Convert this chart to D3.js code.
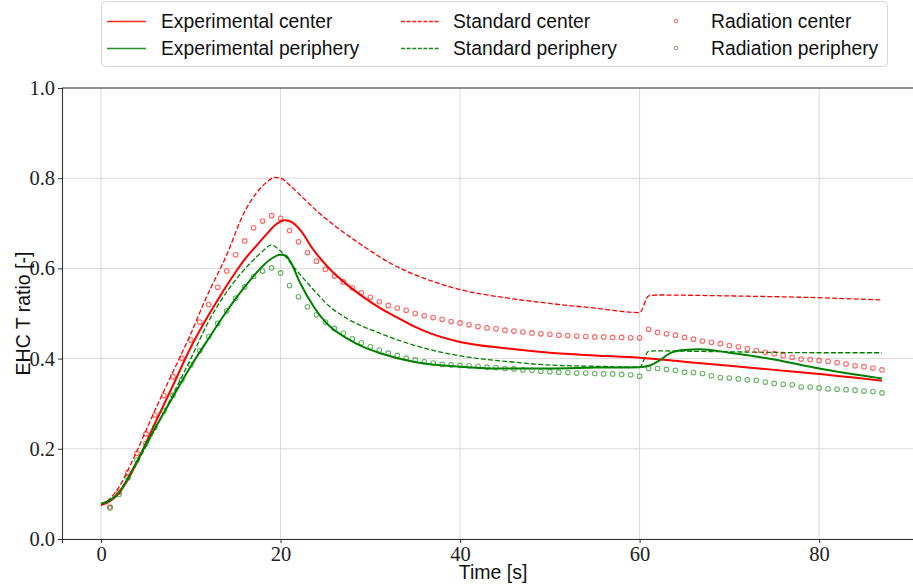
<!DOCTYPE html>
<html>
<head>
<meta charset="utf-8">
<script src="https://cdn.jsdelivr.net/npm/d3@7"></script>
<style>
  body { margin: 0; background: #fff; }
  svg { display: block; }
</style>
</head>
<body>
<svg id="chart" width="913" height="585"></svg>
<script>
// Experimental (solid) series: [time, value]
const expCenter = [
  [0, 0.075], [1, 0.084], [2, 0.102], [3, 0.132], [4, 0.17], [5, 0.213], [6, 0.256],
  [8, 0.34], [10, 0.425], [12, 0.497], [13, 0.53], [14, 0.562], [15, 0.592], [16, 0.62],
  [17.3, 0.65], [18.5, 0.677], [19.5, 0.698], [20.5, 0.707], [21.3, 0.702], [22.2, 0.685],
  [23.6, 0.643], [25.5, 0.598], [27.4, 0.564], [29.2, 0.537], [31.1, 0.512], [32.9, 0.492],
  [34.8, 0.472], [36.7, 0.456], [40, 0.437], [45, 0.423], [50, 0.413], [55, 0.407],
  [60, 0.402], [65, 0.393], [70, 0.384], [75, 0.375], [80, 0.366], [87, 0.351]
];
const expPeriphery = [
  [0, 0.078], [1, 0.086], [2, 0.103], [3, 0.135], [4, 0.172], [5, 0.209], [6, 0.245],
  [8, 0.315], [10, 0.383], [12, 0.445], [14, 0.505], [16, 0.559], [17, 0.583], [18, 0.605],
  [19, 0.622], [20, 0.63], [20.6, 0.628], [21.1, 0.615], [22.2, 0.567], [23.7, 0.515],
  [25.5, 0.471], [27.4, 0.445], [29.2, 0.426], [31.1, 0.412], [34.8, 0.393], [40, 0.382],
  [44, 0.378], [50, 0.378], [55, 0.38], [60, 0.381], [61, 0.384], [62.3, 0.397],
  [63.4, 0.412], [65, 0.419], [66.7, 0.421], [70, 0.413], [75, 0.398], [80, 0.378], [87, 0.356]
];

// Standard (dashed) series
const stdCenter = [
  [0, 0.075], [1, 0.09], [2, 0.115], [3, 0.153], [4, 0.195], [5, 0.24], [6, 0.285],
  [8, 0.37], [10, 0.455], [11.6, 0.53], [14, 0.63], [16, 0.726], [17.3, 0.767],
  [18.5, 0.792], [19.3, 0.802], [20, 0.8], [21, 0.785], [22, 0.766], [23, 0.747],
  [24, 0.728], [25, 0.711], [26, 0.695], [28, 0.666], [30, 0.639], [32, 0.614],
  [34, 0.594], [36, 0.578], [40, 0.553], [45, 0.535], [49.7, 0.523], [55, 0.512],
  [60, 0.502], [61, 0.539], [62, 0.541], [70, 0.539], [80, 0.535], [87, 0.53]
];
const stdPeriphery = [
  [0, 0.077], [1, 0.087], [2, 0.105], [3, 0.135], [4, 0.168], [5, 0.205], [6, 0.243],
  [8, 0.32], [10, 0.4], [12, 0.483], [14.4, 0.559], [16.6, 0.611], [18, 0.638], [19, 0.652],
  [19.9, 0.64], [21.6, 0.6], [23.7, 0.552], [25.5, 0.515], [27.4, 0.489], [31.1, 0.456],
  [34.8, 0.43], [40, 0.406], [45, 0.394], [49.7, 0.386], [55, 0.383], [60, 0.381],
  [61, 0.416], [62, 0.417], [70, 0.415], [80, 0.413], [87, 0.413]
];

// Radiation (markers), one value per second from t = 1 s
const radTimes = d3.range(1, 88);
const radCenter = [
  0.071, 0.104, 0.148, 0.19, 0.233, 0.275, 0.318, 0.36, 0.401, 0.441,
  0.481, 0.52, 0.558, 0.594, 0.63, 0.661, 0.69, 0.705, 0.717, 0.711,
  0.684, 0.659, 0.635, 0.616, 0.598, 0.583, 0.57, 0.557, 0.546, 0.536,
  0.526, 0.518, 0.512, 0.507, 0.5, 0.495, 0.491, 0.487, 0.482, 0.479,
  0.475, 0.471, 0.468, 0.466, 0.463, 0.461, 0.459, 0.457, 0.455, 0.454,
  0.452, 0.451, 0.45, 0.449, 0.448, 0.448, 0.447, 0.447, 0.446, 0.446,
  0.465, 0.458, 0.455, 0.452, 0.447, 0.443, 0.439, 0.436, 0.433, 0.429,
  0.426, 0.422, 0.418, 0.414, 0.411, 0.407, 0.403, 0.399, 0.398, 0.396,
  0.394, 0.391, 0.388, 0.384, 0.382, 0.379, 0.375
];
const radPeriphery = [
  0.069, 0.099, 0.136, 0.175, 0.212, 0.248, 0.284, 0.319, 0.353, 0.386,
  0.418, 0.449, 0.478, 0.506, 0.534, 0.559, 0.582, 0.594, 0.601, 0.59,
  0.562, 0.537, 0.515, 0.497, 0.481, 0.467, 0.456, 0.444, 0.435, 0.426,
  0.419, 0.412, 0.407, 0.401, 0.397, 0.393, 0.39, 0.387, 0.386, 0.385,
  0.384, 0.383, 0.381, 0.38, 0.378, 0.377, 0.375, 0.374, 0.372, 0.371,
  0.37, 0.369, 0.368, 0.368, 0.367, 0.366, 0.366, 0.365, 0.364, 0.361,
  0.378, 0.378, 0.376, 0.374, 0.37, 0.369, 0.367, 0.362, 0.358, 0.357,
  0.355, 0.353, 0.352, 0.348, 0.345, 0.343, 0.342, 0.337, 0.337, 0.335,
  0.333, 0.332, 0.331, 0.33, 0.328, 0.327, 0.324
];

const xTicks = [0, 20, 40, 60, 80];
const yTicks = [0, 0.2, 0.4, 0.6, 0.8, 1.0];

const RED = "#ff0000";
const GREEN = "#008000";

const svg = d3.select("#chart");

const x = d3.scaleLinear().domain([-4.35, 91.35]).range([62, 921]);
const y = d3.scaleLinear().domain([0, 1]).range([539, 88]);

const serif = "'Liberation Serif', 'DejaVu Serif', serif";
const sans = "'Liberation Sans', Arial, sans-serif";

// grid
svg.append("g")
  .selectAll("line")
  .data(xTicks)
  .join("line")
  .attr("x1", d => x(d)).attr("x2", d => x(d))
  .attr("y1", y(0)).attr("y2", y(1))
  .attr("stroke", "#d9d9d9").attr("stroke-width", 1);
svg.append("g")
  .selectAll("line")
  .data(yTicks)
  .join("line")
  .attr("x1", x.range()[0]).attr("x2", x.range()[1])
  .attr("y1", d => y(d)).attr("y2", d => y(d))
  .attr("stroke", "#d9d9d9").attr("stroke-width", 1);

// axes
const xAxis = svg.append("g")
  .attr("transform", `translate(0,${y(0)})`)
  .call(d3.axisBottom(x).tickValues(xTicks).tickFormat(d3.format("d")).tickSize(4).tickPadding(3));
const yAxis = svg.append("g")
  .attr("transform", `translate(${x.range()[0]},0)`)
  .call(d3.axisLeft(y).tickValues(yTicks).tickFormat(d3.format(".1f")).tickSize(4).tickPadding(3));

[xAxis, yAxis].forEach(g => {
  g.select(".domain").attr("stroke", "#333").attr("stroke-width", 1.1);
  g.selectAll(".tick line").attr("stroke", "#333");
  g.selectAll(".tick text")
    .attr("fill", "#222")
    .style("font-family", serif)
    .style("font-size", "20.5px");
});

// top spine
svg.append("line")
  .attr("x1", x.range()[0]).attr("x2", x.range()[1])
  .attr("y1", y(1)).attr("y2", y(1))
  .attr("stroke", "#333").attr("stroke-width", 1.1);

// axis labels
svg.append("text")
  .attr("x", 493).attr("y", 579)
  .attr("text-anchor", "middle")
  .style("font-family", sans).style("font-size", "19.5px")
  .attr("fill", "#111")
  .text("Time [s]");
svg.append("text")
  .attr("transform", `translate(30,${(y(0) + y(1)) / 2}) rotate(-90)`)
  .attr("text-anchor", "middle")
  .style("font-family", sans).style("font-size", "19.5px")
  .attr("fill", "#111")
  .text("EHC T ratio [-]");

const line = d3.line()
  .x(d => x(d[0]))
  .y(d => y(d[1]))
  .curve(d3.curveMonotoneX);

// lines
const series = [
  { data: stdCenter, color: RED, dash: "5,2.2", width: 1.3 },
  { data: stdPeriphery, color: GREEN, dash: "5,2.2", width: 1.3 },
  { data: expCenter, color: RED, dash: null, width: 2 },
  { data: expPeriphery, color: GREEN, dash: null, width: 2 }
];

svg.append("g")
  .selectAll("path")
  .data(series)
  .join("path")
  .attr("d", d => line(d.data))
  .attr("fill", "none")
  .attr("stroke", d => d.color)
  .attr("stroke-width", d => d.width)
  .attr("stroke-dasharray", d => d.dash);

// radiation markers
function markers(values, color) {
  svg.append("g")
    .selectAll("circle")
    .data(values)
    .join("circle")
    .attr("cx", (d, i) => x(radTimes[i]))
    .attr("cy", d => y(d))
    .attr("r", 2.3)
    .attr("fill", "none")
    .attr("stroke", color)
    .attr("stroke-opacity", 0.6)
    .attr("stroke-width", 1.1);
}
markers(radCenter, RED);
markers(radPeriphery, GREEN);

// legend
const legend = svg.append("g");
legend.append("rect")
  .attr("x", 101.5).attr("y", 1.5)
  .attr("width", 786).attr("height", 65)
  .attr("rx", 4)
  .attr("fill", "#fff")
  .attr("stroke", "#d6d6d6");

const legendItems = [
  { label: "Experimental center", color: RED, kind: "solid", col: 0, row: 0 },
  { label: "Experimental periphery", color: GREEN, kind: "solid", col: 0, row: 1 },
  { label: "Standard center", color: RED, kind: "dash", col: 1, row: 0 },
  { label: "Standard periphery", color: GREEN, kind: "dash", col: 1, row: 1 },
  { label: "Radiation center", color: RED, kind: "marker", col: 2, row: 0 },
  { label: "Radiation periphery", color: GREEN, kind: "marker", col: 2, row: 1 }
];
const colX = [107, 401, 657];
const textX = [161, 453, 711];
const rowY = [21, 48];

legendItems.forEach(it => {
  const cy = rowY[it.row];
  if (it.kind === "marker") {
    legend.append("circle")
      .attr("cx", 676).attr("cy", cy).attr("r", 1.8)
      .attr("fill", "none").attr("stroke", it.color)
      .attr("stroke-opacity", 0.6);
  } else {
    legend.append("line")
      .attr("x1", colX[it.col]).attr("x2", colX[it.col] + 39)
      .attr("y1", cy + 0.5).attr("y2", cy + 0.5)
      .attr("stroke", it.color)
      .attr("stroke-opacity", it.kind === "solid" ? 0.85 : 0.9)
      .attr("stroke-width", 1.4)
      .attr("stroke-dasharray", it.kind === "dash" ? "4,1.6" : null);
  }
  legend.append("text")
    .attr("x", textX[it.col]).attr("y", cy)
    .attr("dy", "0.35em")
    .style("font-family", sans).style("font-size", "19.3px")
    .attr("fill", "#111")
    .text(it.label);
});
</script>
</body>
</html>
